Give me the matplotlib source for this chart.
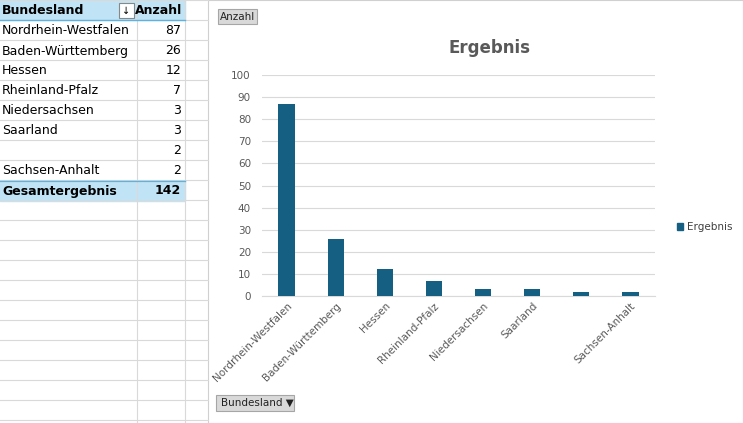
import matplotlib.pyplot as plt
from matplotlib.patches import Rectangle

W, H = 743, 423

laender = ['Nordrhein-Westfalen', 'Baden-Württemberg', 'Hessen', 'Rheinland-Pfalz',
           'Niedersachsen', 'Saarland', '', 'Sachsen-Anhalt']
anzahl = [87, 26, 12, 7, 3, 3, 2, 2]
gesamt = 142
yticks = [0, 10, 20, 30, 40, 50, 60, 70, 80, 90, 100]

bar_color = '#156082'
head_blue = '#c0e4f5'
grid_gray = '#d9d9d9'

fig = plt.figure(figsize=(W / 100, H / 100), dpi=100)

# sheet background with grid
sheet = fig.add_axes([0, 0, 1, 1])
sheet.set_xlim(0, W)
sheet.set_ylim(H, 0)
sheet.axis('off')
for y in range(0, H + 20, 20):
    sheet.plot([0, 208], [y, y], color=grid_gray, lw=0.8)
for x in [137, 185]:
    sheet.plot([x, x], [0, H], color=grid_gray, lw=0.8)

# pivot table
fs = 9
sheet.add_patch(Rectangle((0, 0), 185, 20, color=head_blue))
sheet.add_patch(Rectangle((0, 181), 185, 20, color=head_blue))
sheet.plot([0, 185], [20, 20], color='#5fb2e0', lw=1)
sheet.plot([0, 185], [181, 181], color='#5fb2e0', lw=1)
sheet.text(2, 11, 'Bundesland', fontsize=fs, fontweight='bold', va='center')
sheet.add_patch(Rectangle((119, 3), 15, 15, fc='white', ec='#888888', lw=0.8))
sheet.text(126.5, 11, '↓', fontsize=7, ha='center', va='center')
sheet.text(182, 11, 'Anzahl', fontsize=fs, fontweight='bold', va='center', ha='right')
for i, (land, n) in enumerate(zip(laender, anzahl)):
    y = 31 + i * 20
    sheet.add_patch(Rectangle((0, y - 10), 185, 20, color='white'))
    sheet.text(2, y, land, fontsize=fs, va='center')
    sheet.text(181, y, str(n), fontsize=fs, va='center', ha='right')
sheet.text(2, 191, 'Gesamtergebnis', fontsize=fs, fontweight='bold', va='center')
sheet.text(181, 191, str(gesamt), fontsize=fs, fontweight='bold', va='center', ha='right')

# chart area
sheet.add_patch(Rectangle((208, 0), W - 208, H, fc='white', ec='#d0d0d0', lw=0.8))
sheet.add_patch(Rectangle((218, 9), 39, 15, fc='#d9d9d9', ec='#a6a6a6', lw=0.8))
sheet.text(237.5, 17, 'Anzahl', fontsize=7.5, ha='center', va='center', color='#222222')
sheet.add_patch(Rectangle((216, 395), 78, 16, fc='#d9d9d9', ec='#a6a6a6', lw=0.8))
sheet.text(221, 403, 'Bundesland ▼', fontsize=7.5, va='center', color='#222222')
sheet.text(490, 48, 'Ergebnis', fontsize=12, ha='center', va='center',
           color='#595959', fontweight='bold')
sheet.add_patch(Rectangle((677, 223), 6, 7, color=bar_color))
sheet.text(687, 227, 'Ergebnis', fontsize=7.5, va='center', color='#404040')

ax = fig.add_axes([262 / W, 1 - 296 / H, (655 - 262) / W, (296 - 75) / H])
x = range(len(laender))
ax.bar(x, anzahl, width=0.33, color=bar_color, zorder=3)
ax.set_ylim(0, 100)
ax.set_xlim(-0.5, len(laender) - 0.5)
ax.set_yticks(yticks)
ax.yaxis.grid(True, color='#d9d9d9', lw=0.8, zorder=0)
ax.set_xticks(list(x))
ax.set_xticklabels(laender, rotation=45, ha='right', rotation_mode='anchor',
                   fontsize=7.5, color='#595959')
ax.tick_params(axis='y', labelsize=7.5, labelcolor='#595959', length=0, pad=8)
ax.tick_params(axis='x', length=0)
for s in ['top', 'right', 'left']:
    ax.spines[s].set_visible(False)
ax.spines['bottom'].set_color('#d9d9d9')

fig.savefig('out.png', dpi=100)
